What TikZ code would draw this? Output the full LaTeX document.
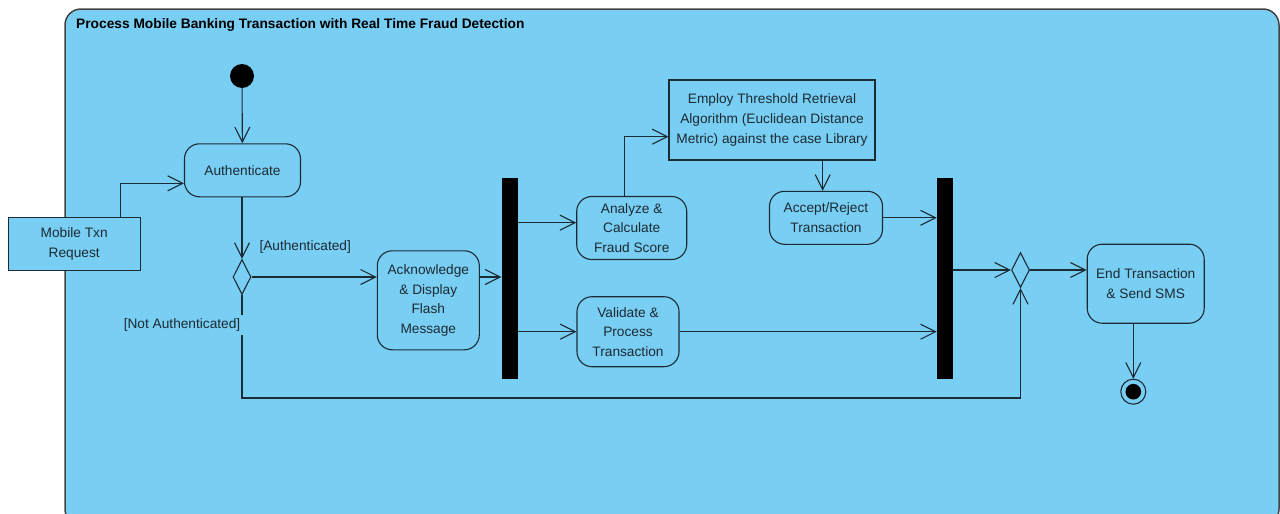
\documentclass[tikz,border=0pt]{standalone}
\usepackage{fontspec}
\setmainfont{Liberation Sans}
\usetikzlibrary{arrows.meta,shapes.geometric}
\definecolor{bg}{HTML}{79CEF3}
\definecolor{lc}{HTML}{1C2A33}
\definecolor{fr}{HTML}{444444}
\newcommand\fsz{\fontsize{13.7}{19.6}\selectfont}
\tikzset{
  act/.style={draw=lc, fill=bg, rounded corners=15, line width=1.1, align=center, inner sep=0, font=\fsz, text=lc},
  box/.style={draw=lc, fill=bg, line width=1.1, align=center, inner sep=0, font=\fsz, text=lc},
  bar/.style={fill=black, draw=none, minimum width=16, minimum height=201, inner sep=0},
  dec/.style={draw=lc, fill=bg, line width=1.1, diamond, minimum width=18, minimum height=35, inner sep=0},
  arr/.style={draw=lc, line width=1.1, -{Straight Barb[length=15pt,width=15pt,line width=1.1pt]}},
  lbl/.style={font=\fsz, text=lc, inner sep=0}
}
\begin{document}
\begin{tikzpicture}[x=1pt,y=-1pt]
\useasboundingbox (0,0) rectangle (1280,514);
\fill[white] (0,0) rectangle (1280,514);
\draw[fr, fill=bg, line width=1.5, rounded corners=16] (65,9) rectangle (1279,525);
\node[anchor=west, inner sep=0, font=\fontsize{13.75}{16}\selectfont\bfseries, text=black] (title) at (76,25) {Process Mobile Banking Transaction with Real Time Fraud Detection};

\node[circle, fill=black, minimum size=24, inner sep=0] (init) at (242,76) {};
\node[act, minimum width=116, minimum height=53] (auth) at (242.5,170.3) {Authenticate};
\node[box, minimum width=132, minimum height=53] (req) at (74.2,244.2) {Mobile Txn\\Request};
\node[dec] (d1) at (242,277) {};
\node[act, minimum width=102, minimum height=99] (ack) at (428.3,300.3) {Acknowledge\\\& Display\\Flash\\Message};
\node[bar] (bar1) at (509.5,278.7) {};
\node[act, minimum width=110, minimum height=63] (ana) at (631.7,228) {Analyze \&\\Calculate\\Fraud Score};
\node[act, minimum width=102, minimum height=70] (val) at (628,331.7) {Validate \&\\Process\\Transaction};
\node[box, minimum width=206, minimum height=80] (emp) at (772,120) {Employ Threshold Retrieval\\Algorithm (Euclidean Distance\\Metric) against the case Library};
\node[act, minimum width=113, minimum height=53] (acc) at (826,217.8) {Accept/Reject\\Transaction};
\node[bar] (bar2) at (945,278.2) {};
\node[dec] (d2) at (1020.5,270) {};
\node[act, minimum width=117, minimum height=79] (endn) at (1145.7,283.7) {End Transaction\\\& Send SMS};
\node[circle, draw=lc, line width=1.1, minimum size=25, inner sep=0] (fin) at (1133.3,391.7) {};
\fill[black] (fin) circle (7.8);

\node[lbl, anchor=west] (la) at (259.3,246.7) {[Authenticated]};

% connectors
\draw[arr] (init) -- (auth);
\coordinate (r1) at ([xshift=46.5]req.north);
\coordinate (r2) at ([yshift=-13]auth.west);
\draw[arr] (r1) |- (r2);
\draw[arr] (d1.north |- auth.south) -- (d1.north);
\draw[arr] (d1.east) -- (d1.east -| ack.west);
\draw[arr] (ack.east |- d1.east) -- (d1.east -| bar1.west);
\coordinate (a1) at ([yshift=5.3]ana.west);
\draw[arr] (bar1.east |- a1) -- (a1);
\draw[arr] (bar1.east |- val.west) -- (val.west);
\coordinate (a2) at ([xshift=-7.4]ana.north);
\coordinate (a3) at ([yshift=-16.7]emp.west);
\draw[arr] (a2) |- (a3);
\coordinate (a4) at ([xshift=50.7]emp.south);
\draw[arr] (a4) -- (a4 |- acc.north);
\draw[arr] (acc.east) -- (acc.east -| bar2.west);
\draw[arr] (val.east) -- (val.east -| bar2.west);
\draw[arr] (bar2.east |- d2.west) -- (d2.west);
\draw[arr] (d2.east) -- (d2.east -| endn.west);
\draw[arr] (endn.south -| fin.north) -- (fin.north);
\coordinate (b1) at (242,398);
\draw[arr] (d1.south) -- (b1) -| (d2.south);
\node[lbl, anchor=east, fill=bg, inner xsep=3, inner ysep=4] (lna) at (243.5,325) {[Not Authenticated]};
\end{tikzpicture}
\end{document}
